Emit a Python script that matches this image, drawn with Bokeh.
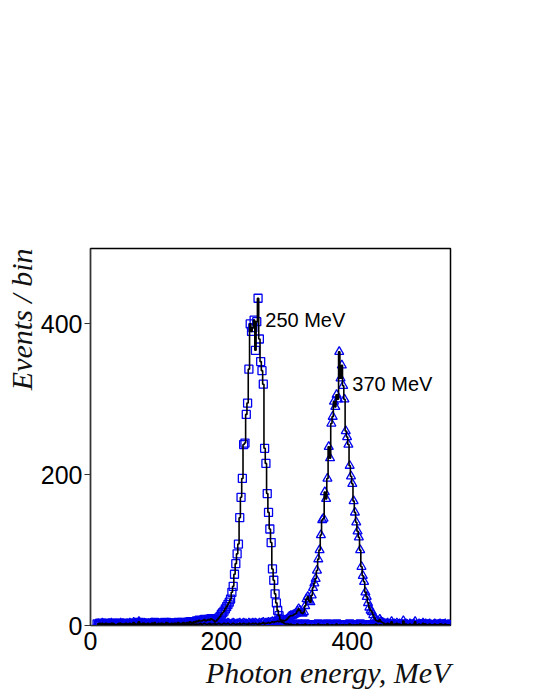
import numpy as np
from bokeh.plotting import figure
from bokeh.models import Title, Range1d, FixedTicker, Label
from bokeh.embed import file_html
from bokeh.resources import INLINE

# bin centres, MeV (2 MeV bins from 10 to 550)
energy_bins = np.arange(10, 552, 2)

# 250 MeV beam (squares)
s1_low_a = [2,1,3,2,1,2,0,3,1,2,2,1,3,2,1,0,2,3,1,2,
            1,2,3,1,2,0,2,1,3,2,1,2,4,2,1,3,2,1,2,3,
            2,1,3,2,4,1,2,3,2,1,3,2,2,4,3,1,2,3,2,3,
            3,2,4,3,2,3,4,2,3,4,3,5,4,3,5,4,6,5,7,6,
            6,7,8,6,7,8,7,9,8,7]
s1_peak = [5,6,8,10,12,15,17,19,22,25,
           28,31,35,44,52,68,82,95,108,143,
           170,195,240,242,280,295,340,400,390,395,
           405,365,403,434,380,350,338,320,235,215,
           175,150,128,110,75,60,42,30,20,13,
           8,5,4,3,2,2]
s1_low_b = [2,1,2,1,1,0,1,2,1,0,1,1,0,2,1,0,1,1,0,1,
            1,0,1,2,0,1,1,0,1,0,2,1,0,1,1,0,1,2,0,1,
            0,1,1,0,1,0,1,2,1,0,1,0,1,1,0,2,1,0,1,0,
            1,0,1,1,0,1,0,2,1,0,1,1,0,1,0,1,1,0,2,1,
            0,1,1,0,1,0,1,1,2,0,1,0,1,1,0,1,0,1,1,0,
            1,0,1,0,2,1,0,1,1,0,1,0,1,1,0,1,0,2,1,0,
            1,0,1,1,0]

# 370 MeV beam (triangles)
s2_low_a = [1,2,0,1,3,1,2,1,0,2,1,3,1,2,0,1,2,1,3,1,
            2,1,0,2,1,3,2,1,4,2,1,2,5,1,2,1,3,2,1,2,
            1,2,3,1,2,1,0,2,1,3,1,2,1,2,3,1,2,1,2,1,
            2,1,3,1,2,1,2,3,1,2,1,2,1,3,2,1,2,1,2,3,
            1,2,3,2,1,2,3,1,2,2,3,1,2,3,2,1,2,3,2,2,
            3,2,1,2,3,2,1,2,2,3,1,2,3,2,2,1,3,2,2,3,
            2,3,2,1,3,2,3,4,2,3,3,4,3,4,5,4,5,5,6,5,
            6,5,7,6,7]
s2_peak = [8,10,12,13,13,14,15,16,19,22,
           20,17,16,18,26,35,38,33,31,40,
           50,56,62,73,88,100,120,140,142,177,
           168,195,237,222,268,277,297,290,306,300,
           363,328,345,318,300,258,250,240,212,198,
           188,165,150,137,125,117,100,78,66,58,
           44,38,30,24,20,18,14,10,7,6,
           5,8,5,4,3,2]
s2_low_b = [2,3,1,2,5,1,2,1,3,1,2,0,1,6,1,2,1,0,2,1,
            1,2,5,1,0,2,1,1,3,1,2,0,1,2,1,0,1,2,1,0,
            1,2,0,1,1,2,0,1,1,0]

events_250 = s1_low_a + s1_peak + s1_low_b
events_370 = s2_low_a + s2_peak + s2_low_b

x_ticks = [0, 200, 400]
y_ticks = [0, 200, 400]
peak_labels = ["250 MeV", "370 MeV"]
label_x = [267, 400]
label_y = [405, 320]

p = figure(frame_width=360, frame_height=377,
           x_range=Range1d(0, 550), y_range=Range1d(0, 500),
           output_backend="svg", toolbar_location=None,
           min_border_top=248, min_border_left=90, min_border_right=12,
           min_border_bottom=60)
p.background_fill_color = "white"
p.border_fill_color = "white"
p.outline_line_color = "black"
p.outline_line_width = 1.5
p.grid.visible = False

p.scatter(energy_bins, events_250, marker="square", size=8, fill_color=None,
          line_color="#0000ee", line_width=1.3)
p.scatter(energy_bins, events_370, marker="triangle", size=9, fill_color=None,
          line_color="#0000ee", line_width=1.3)
p.step(energy_bins, events_250, mode="center", line_color="black", line_width=1.6)
p.step(energy_bins, events_370, mode="center", line_color="black", line_width=1.6)

for t, lx, ly in zip(peak_labels, label_x, label_y):
    p.add_layout(Label(x=lx, y=ly, text=t, text_font="Liberation Sans",
                       text_font_size="20px", text_baseline="middle",
                       text_align="left", text_color="black"))

p.xaxis.ticker = FixedTicker(ticks=x_ticks)
p.yaxis.ticker = FixedTicker(ticks=y_ticks)
for ax in (p.xaxis, p.yaxis):
    ax.major_label_text_font = "Liberation Sans"
    ax.major_label_text_font_size = "25px"
    ax.major_label_text_color = "black"
    ax.minor_tick_line_color = None
    ax.axis_line_color = "#333333"
    ax.axis_line_width = 1.2
p.xaxis.major_tick_line_color = None
p.xaxis.major_tick_out = 0
p.xaxis.major_tick_in = 0
p.xaxis.major_label_standoff = 6
p.yaxis.major_tick_out = 6
p.yaxis.major_tick_in = 0
p.yaxis.major_tick_line_color = "#333333"
p.yaxis.major_label_standoff = 2

ylab = Title(text="Events / bin", align="right", text_font="Liberation Serif",
             text_font_style="italic", text_font_size="30px", text_color="#111111",
             standoff=0)
p.add_layout(ylab, "left")
xlab = Title(text="Photon energy, MeV", align="right", text_font="Liberation Serif",
             text_font_style="italic", text_font_size="30px", text_color="#111111",
             standoff=2)
p.add_layout(xlab, "below")

open("out.html", "w").write(file_html(p, INLINE))
